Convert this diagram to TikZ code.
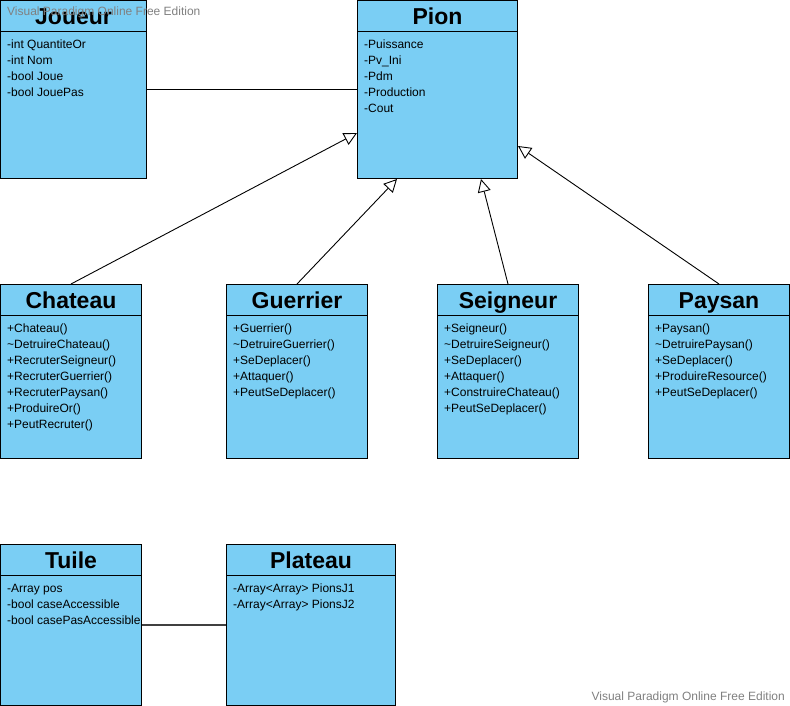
\documentclass[tikz,border=0pt]{standalone}
\usepackage{fontspec}
\setmainfont{Liberation Sans}
\usetikzlibrary{arrows.meta, positioning}
\definecolor{classblue}{RGB}{122,206,244}
\definecolor{markgray}{RGB}{128,128,128}
\definecolor{linkgray}{RGB}{64,64,64}
\tikzset{
	classbody/.style={draw, fill=classblue, line width=1pt, inner sep=0pt},
	classhead/.style={draw, fill=classblue, line width=1pt, inner sep=0pt, minimum height=31pt,
		text height=19.5pt, text depth=2.5pt, font=\fontsize{23}{27}\selectfont\bfseries},
	members/.style={align=left, inner xsep=7pt, inner ysep=8pt, font=\fontsize{12}{16}\selectfont},
	inherit/.style={-{Triangle[open, length=13pt, width=13pt]}, line width=0.9pt},
	assoc/.style={line width=0.9pt},
	watermark/.style={text=markgray, inner sep=0pt, font=\fontsize{12}{14}\selectfont}
}
% name, x, y, width, height, title, members
\newcommand{\umlclass}[7]{%
	\node[classbody, minimum width=#4, minimum height=#5, anchor=north west] (#1) at (#2,#3) {};
	\node[classhead, minimum width=#4, anchor=north west] (#1-head) at (#1.north west) {#6};
	\node[members, below right=0pt and 0pt of #1-head.south west] (#1-list) {#7};
}

\begin{document}
\begin{tikzpicture}[x=1pt, y=-1pt]
	\useasboundingbox (0,0) rectangle (790,706);
	\umlclass{joueur}{0}{0}{146}{178}{Joueur}{-int QuantiteOr\\-int Nom\\-bool Joue\\-bool JouePas}
	\umlclass{pion}{357}{0}{160}{178}{Pion}{-Puissance\\-Pv\_Ini\\-Pdm\\-Production\\-Cout}
	\umlclass{chateau}{0}{284}{141}{174}{Chateau}{+Chateau()\\\textasciitilde DetruireChateau()\\+RecruterSeigneur()\\+RecruterGuerrier()\\+RecruterPaysan()\\+ProduireOr()\\+PeutRecruter()}
	\umlclass{guerrier}{226}{284}{141}{174}{Guerrier}{+Guerrier()\\\textasciitilde DetruireGuerrier()\\+SeDeplacer()\\+Attaquer()\\+PeutSeDeplacer()}
	\umlclass{seigneur}{437}{284}{141}{174}{Seigneur}{+Seigneur()\\\textasciitilde DetruireSeigneur()\\+SeDeplacer()\\+Attaquer()\\+ConstruireChateau()\\+PeutSeDeplacer()}
	\umlclass{paysan}{648}{284}{141}{174}{Paysan}{+Paysan()\\\textasciitilde DetruirePaysan()\\+SeDeplacer()\\+ProduireResource()\\+PeutSeDeplacer()}
	\umlclass{tuile}{0}{544}{141}{161}{Tuile}{-Array pos\\-bool caseAccessible\\-bool casePasAccessible}
	\umlclass{plateau}{226}{544}{169}{161}{Plateau}{-Array<Array> PionsJ1\\-Array<Array> PionsJ2}

	% associations
	\draw[assoc] (joueur.east) -- (pion.west);
	\draw[assoc, draw=linkgray, line width=2pt] (tuile.east) -- (plateau.west);

	% heritage
	\draw[inherit] (chateau.north) -- ([yshift=46pt]pion.south west);
	\draw[inherit] (guerrier.north) -- ([xshift=40pt]pion.south west);
	\draw[inherit] (seigneur.north) -- ([xshift=-37pt]pion.south east);
	\draw[inherit] (paysan.north) -- ([yshift=33pt]pion.south east);

	\node[watermark, anchor=west] (markTop) at (7,12) {Visual Paradigm Online Free Edition};
	\node[watermark, anchor=east] (markBottom) at (785,697) {Visual Paradigm Online Free Edition};
\end{tikzpicture}
\end{document}
